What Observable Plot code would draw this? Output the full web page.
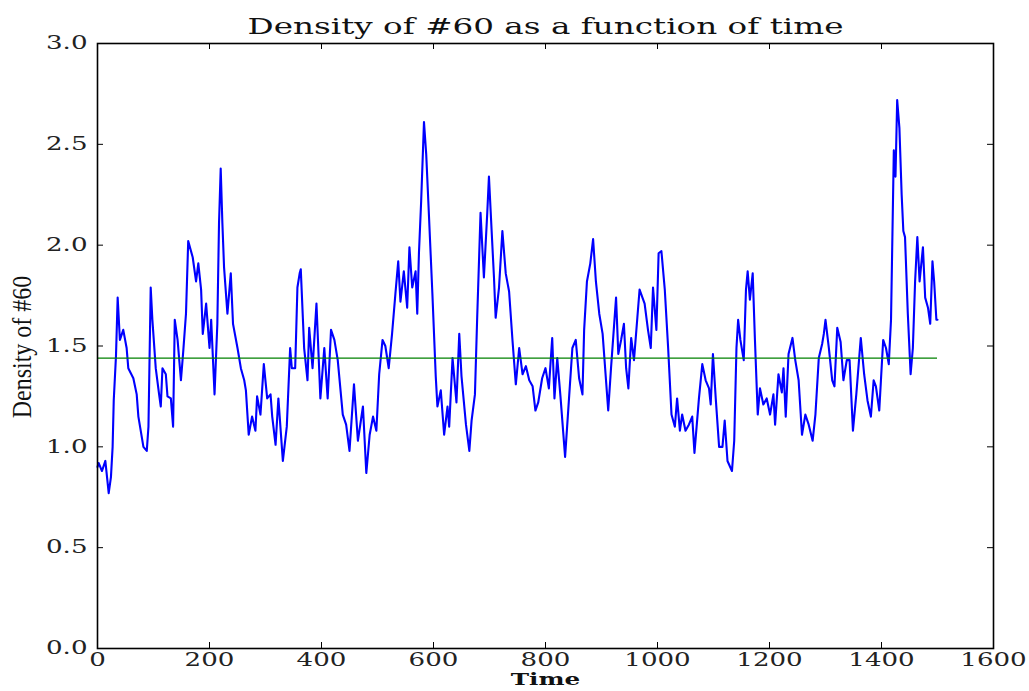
<!DOCTYPE html>
<html>
<head>
<meta charset="utf-8">
<script src="https://cdn.jsdelivr.net/npm/d3@7"></script>
<script src="https://cdn.jsdelivr.net/npm/@observablehq/plot@0.6"></script>
<style>
  html, body { margin: 0; padding: 0; background: #fff; }
  #chart svg { display: block; }
</style>
</head>
<body>
<div id="chart"></div>
<script>
// ---- data ----
const titleText = "Density of #60 as a function of time";
const xLabel = "Time";
const yLabel = "Density of #60";
const xTicks = [0, 200, 400, 600, 800, 1000, 1200, 1400, 1600];
const yTicks = [0.0, 0.5, 1.0, 1.5, 2.0, 2.5, 3.0];
const meanLevel = 1.44;
const meanStart = 0;
const meanEnd = 1500;

const times = [
  0,2,8,14,20,24,27,29,33,36,40,46,52,55,64,70,73,82,88,91,95,98,104,110,113,116,122,125,131,135,138,143,149,153,158,162,170,176,180,185,188,194,200,203,209,214,217,220,223,226,232,238,242,250,256,
  262,265,270,276,282,285,291,297,303,309,312,318,323,331,338,344,347,353,357,361,363,369,375,378,384,391,398,405,411,417,423,429,438,444,450,458,465,474,480,486,492,498,503,509,
  514,520,526,532,537,541,547,553,557,562,568,571,574,578,583,587,592,598,604,607,613,619,625,628,634,641,646,650,658,664,668,674,678,684,690,696,699,704,708,711,717,723,729,735,741,747,753,759,765,771,
  777,782,787,794,800,806,812,816,821,827,835,842,848,854,860,866,869,874,880,885,890,896,902,912,917,926,930,935,940,944,948,953,958,964,968,977,983,988,992,998,1002,1007,1013,1019,1025,1031,1035,
  1040,1044,1050,1056,1062,1066,1074,1080,1086,1092,1095,1099,1104,1110,1116,1120,1125,1133,1137,1141,1144,1148,1154,1158,1161,1165,1170,1174,1179,1183,1189,1195,1201,1207,1210,1216,1222,1225,1229,1234,1241,1246,1252,1258,1264,1270,1277,1282,1288,
  1294,1297,1300,1306,1312,1316,1321,1327,1332,1338,1343,1349,1355,1363,1369,1375,1381,1386,1390,1396,1399,1403,1408,1413,1417,1422,1425,1428,1432,1436,1439,1442,1447,1452,1456,1460,1464,1468,1474,1478,1483,1487,1491,1494,1498,1500
];
const densities = [
  0.90,0.92,0.88,0.93,0.77,0.85,1.00,1.23,1.45,1.74,1.53,1.58,1.49,1.39,1.34,1.26,1.15,1.00,0.98,1.10,1.79,1.63,1.39,1.26,1.20,1.39,1.36,1.25,1.24,1.10,1.63,1.53,1.33,1.47,1.66,2.02,1.94,1.82,1.91,1.78,1.56,1.71,1.49,1.63,1.26,1.61,2.11,2.38,2.11,1.89,1.66,1.86,1.61,1.49,1.39,
  1.33,1.28,1.06,1.15,1.08,1.25,1.16,1.41,1.24,1.26,1.15,1.01,1.24,0.93,1.10,1.49,1.39,1.39,1.79,1.86,1.88,1.49,1.33,1.59,1.39,1.71,1.24,1.49,1.24,1.58,1.53,1.43,1.16,1.11,0.98,1.31,1.03,1.20,0.87,1.06,1.15,1.08,1.36,1.53,
  1.50,1.39,1.56,1.76,1.92,1.72,1.87,1.69,1.99,1.79,1.87,1.66,1.96,2.22,2.61,2.45,2.14,1.76,1.35,1.20,1.28,1.06,1.20,1.10,1.44,1.22,1.56,1.35,1.11,0.98,1.13,1.26,1.64,2.16,1.84,2.16,2.34,2.06,1.84,1.64,1.79,2.07,1.86,1.77,1.53,1.31,1.49,1.36,1.40,1.33,
  1.30,1.18,1.22,1.34,1.39,1.29,1.54,1.24,1.44,1.24,0.95,1.24,1.49,1.53,1.34,1.26,1.58,1.82,1.91,2.03,1.82,1.66,1.56,1.18,1.39,1.74,1.46,1.53,1.61,1.39,1.29,1.54,1.43,1.64,1.78,1.71,1.58,1.49,1.79,1.58,1.96,1.97,1.78,1.49,1.16,1.10,1.24,
  1.08,1.16,1.08,1.11,1.15,0.97,1.24,1.41,1.33,1.29,1.21,1.46,1.24,1.00,1.00,1.13,0.93,0.88,1.03,1.49,1.63,1.53,1.43,1.78,1.87,1.73,1.86,1.53,1.16,1.29,1.21,1.24,1.16,1.26,1.11,1.36,1.27,1.39,1.15,1.46,1.54,1.43,1.33,1.06,1.16,1.11,1.03,1.16,1.44,
  1.51,1.56,1.63,1.49,1.33,1.30,1.59,1.52,1.33,1.43,1.43,1.08,1.26,1.54,1.36,1.23,1.15,1.33,1.30,1.18,1.33,1.53,1.49,1.41,1.63,2.47,2.34,2.72,2.58,2.25,2.07,2.04,1.66,1.36,1.49,1.82,2.04,1.82,1.99,1.74,1.69,1.61,1.92,1.82,1.63,1.63
];

// table built from the arrays
const series = times.map((t, i) => ({t, v: densities[i]}));

const W = 1029, H = 691;
const mL = 97, mR = 36, mT = 43, mB = 43;
const innerW = W - mL - mR, innerH = H - mT - mB;
const tickLen = 6;

const chart = Plot.plot({
  width: W,
  height: H,
  marginLeft: mL,
  marginRight: mR,
  marginTop: mT,
  marginBottom: mB,
  style: {fontFamily: "'DejaVu Serif', serif", fontSize: "18px", color: "#000", background: "#fff", overflow: "visible"},
  x: {domain: [0, 1600], label: null},
  y: {domain: [0, 3], label: null},
  marks: [
    Plot.line(series, {x: "t", y: "v", stroke: "#0000ff", strokeWidth: 2.1, strokeLinejoin: "round"}),
    Plot.ruleY([meanLevel], {x1: meanStart, x2: meanEnd, stroke: "#008000", strokeWidth: 1.4}),
    Plot.frame({stroke: "#000", strokeWidth: 1.6}),
    // inward ticks on all four sides
    Plot.tickX(xTicks, {x: d => d, insetTop: innerH - tickLen, stroke: "#000", strokeWidth: 1}),
    Plot.tickX(xTicks, {x: d => d, insetBottom: innerH - tickLen, stroke: "#000", strokeWidth: 1}),
    Plot.tickY(yTicks, {y: d => d, insetRight: innerW - tickLen, stroke: "#000", strokeWidth: 1}),
    Plot.tickY(yTicks, {y: d => d, insetLeft: innerW - tickLen, stroke: "#000", strokeWidth: 1}),
    Plot.axisX({ticks: xTicks, tickSize: 0, tickPadding: 5, tickFormat: d3.format("d"), label: null, fill: "#222"}),
    Plot.axisY({ticks: yTicks, tickSize: 0, tickPadding: 10, tickFormat: d3.format(".1f"), label: null, fill: "#222"}),
    Plot.text([titleText], {frameAnchor: "top", dy: -25, fontSize: 22.5, fill: "#111"}),
    Plot.text([xLabel], {frameAnchor: "bottom", dy: 36.5, fontSize: 17, fontWeight: "bold", fill: "#111"}),
    Plot.text([yLabel], {frameAnchor: "left", textAnchor: "middle", dx: -75, dy: 1, rotate: -90, fontSize: 24, fontFamily: "'Liberation Serif', serif", fill: "#111"})
  ]
});

// horizontally widen the text as in the reference
chart.querySelectorAll("text").forEach(t => {
  const s = t.textContent === yLabel ? 1.15 : 1.45;
  const tr = t.getAttribute("transform");
  if (tr && tr.includes("translate")) {
    t.setAttribute("transform", tr.replace(/(translate\([^)]*\))/, `$1 scale(${s},1)`));
  } else {
    const x = +(t.getAttribute("x") || 0), y = +(t.getAttribute("y") || 0);
    t.removeAttribute("x"); t.removeAttribute("y");
    t.setAttribute("transform", `translate(${x},${y}) scale(${s},1)` + (tr ? " " + tr : ""));
  }
});

document.getElementById("chart").appendChild(chart);
</script>
</body>
</html>
